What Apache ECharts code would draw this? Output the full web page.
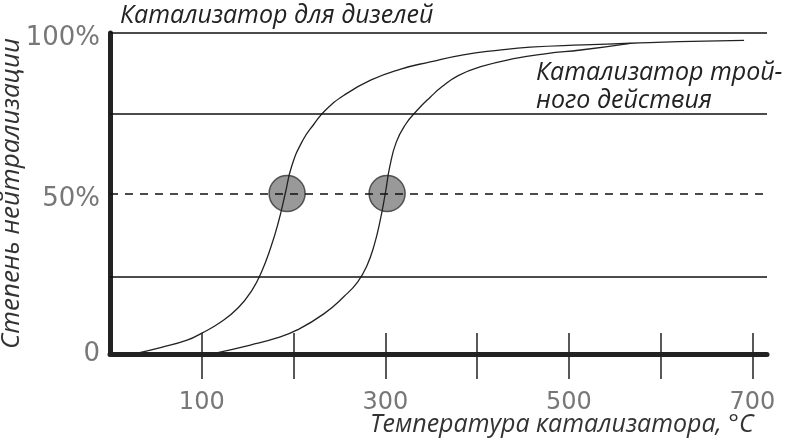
<!DOCTYPE html>
<html><head><meta charset="utf-8">
<script src="https://cdn.jsdelivr.net/npm/echarts@6/dist/echarts.min.js"></script>
<style>html,body{margin:0;padding:0;background:#fff}#c{width:792px;height:440px}</style>
</head><body><div id="c"></div>
<script>
// Diesel catalyst curve (temperature °C, neutralization %)
const dieselX = [30, 55, 84, 100, 120, 140, 155, 165, 175, 183, 191, 198, 210, 222, 235, 255, 284, 316, 349, 385, 422, 458, 516, 567, 620, 691];
const dieselY = [0.3, 2, 4.3, 6.5, 9.8, 14.5, 20, 25.5, 33, 40.5, 50, 58.5, 66.5, 71.5, 76, 80.6, 85.3, 88.7, 91, 93.2, 94.6, 95.6, 96.3, 96.8, 97.3, 97.7];
// Three-way catalyst curve
const threeWayX = [115, 153, 182, 204, 233, 255, 270, 280, 288, 294, 300, 305, 312, 322, 335, 349, 362, 380, 404, 440, 476, 513, 567];
const threeWayY = [0.3, 2.8, 5, 7.5, 12.5, 17.9, 22.5, 27.5, 34, 41, 50, 58.5, 66, 71.5, 76, 80, 83.3, 86.8, 89.5, 92, 93.6, 94.7, 96.8];
// 50% light-off points
const lightOffX = [193, 302];
const lightOffY = [50, 50];
// Axis ticks / labels
const xTicks = [100, 200, 300, 400, 500, 600, 700];
const xTickLabels = [100, 300, 500, 700];
const yTickLabels = [0, 50, 100];
const yLabelText = {0: '0', 50: '50%', 100: '100%'};
const solidLevels = [24, 75, 100];
const dashedLevels = [50];
const labels = {
  diesel: 'Катализатор для дизелей',
  threeWay1: 'Катализатор трой-',
  threeWay2: 'ного действия',
  xName: 'Температура катализатора, °C',
  yName: 'Степень нейтрализации'
};

const zip = (xs, ys) => xs.map((x, i) => [x, ys[i]]);
const chart = echarts.init(document.getElementById('c'));
const textFont = '"Open Sans", "Noto Sans", sans-serif';
chart.setOption({
  animation: false,
  backgroundColor: '#fff',
  grid: {left: 110, right: 25, top: 33, bottom: 86, outerBoundsMode: 'none', containLabel: false},
  xAxis: [{
    type: 'value', min: 0, max: 716, position: 'bottom',
    axisLine: {show: true, lineStyle: {color: '#222', width: 5}},
    axisTick: {show: true, inside: false, length: 25, customValues: xTicks, lineStyle: {color: '#222', width: 1.5}},
    axisLabel: {show: true, customValues: xTickLabels, margin: 37, color: '#777', fontSize: 24, fontFamily: 'DejaVu Sans'},
    splitLine: {show: false}
  }, {
    type: 'value', min: 0, max: 716, position: 'bottom',
    axisLine: {show: false},
    axisTick: {show: true, inside: true, length: 21, customValues: xTicks, lineStyle: {color: '#222', width: 1.5}},
    axisLabel: {show: false},
    splitLine: {show: false}
  }],
  yAxis: {
    type: 'value', min: 0, max: 100,
    axisLine: {show: true, lineStyle: {color: '#222', width: 5}},
    axisTick: {show: false},
    axisLabel: {
      customValues: yTickLabels, margin: 10, color: '#777', fontSize: 26, fontFamily: 'DejaVu Sans',
      formatter: v => v === 0 ? '{z|' + yLabelText[v] + '}' : '{p|' + yLabelText[v] + '}',
      rich: {
        z: {fontSize: 26, fontFamily: 'DejaVu Sans', color: '#777'},
        p: {fontSize: 26, fontFamily: 'DejaVu Sans', color: '#777', padding: [11, 0, 0, 0]}
      }
    },
    splitLine: {show: false},
    name: labels.yName, nameLocation: 'middle', nameRotate: 90, nameGap: 85, nameMoveOverlap: false,
    nameTextStyle: {fontSize: 26, fontStyle: 'italic', color: '#333', fontFamily: textFont}
  },
  graphic: [
    {type: 'text', left: 120, top: 3, style: {text: labels.diesel, font: 'italic 25px ' + textFont, fill: '#222'}},
    {type: 'text', left: 536, top: 60, style: {text: labels.threeWay1, font: 'italic 25px ' + textFont, fill: '#222'}},
    {type: 'text', left: 536, top: 88, style: {text: labels.threeWay2, font: 'italic 25px ' + textFont, fill: '#222'}},
    {type: 'text', left: 370, top: 412, style: {text: labels.xName, font: 'italic 25px ' + textFont, fill: '#333'}}
  ],
  series: [
    {
      type: 'scatter', data: zip(lightOffX, lightOffY), symbol: 'circle', symbolSize: 36, z: 2,
      itemStyle: {color: '#7f7f7f', borderColor: '#333', borderWidth: 1.5},
      markLine: {
        silent: true, symbol: 'none', label: {show: false},
        data: solidLevels.map(v => ({yAxis: v, lineStyle: {type: 'solid', color: '#111', width: 1.5}}))
          .concat(dashedLevels.map(v => ({yAxis: v, lineStyle: {type: [8, 7], color: '#111', width: 1.5}})))
      }
    },
    {type: 'line', data: zip(dieselX, dieselY), smooth: 0.5, showSymbol: false, z: 3,
     lineStyle: {color: '#222', width: 1.3}},
    {type: 'line', data: zip(threeWayX, threeWayY), smooth: 0.5, showSymbol: false, z: 3,
     lineStyle: {color: '#222', width: 1.3}}
  ]
});
</script></body></html>
